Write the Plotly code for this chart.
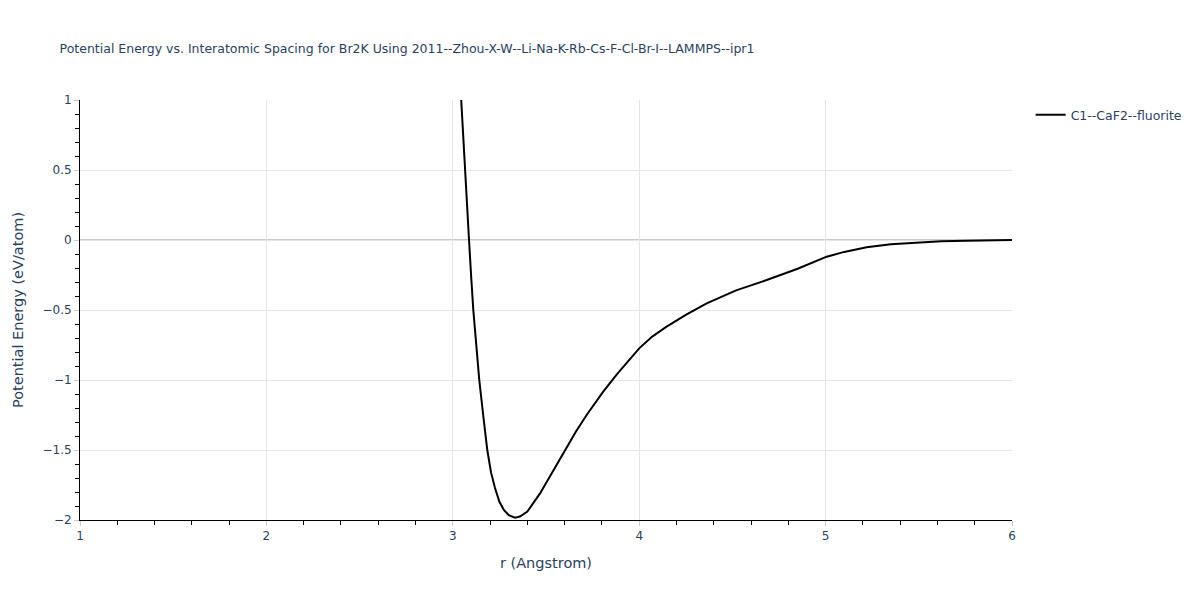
import plotly.graph_objects as go

# Valores (r en Angstrom, energía en eV/atom)
r_values = [3.020, 3.044, 3.055, 3.065, 3.076, 3.087, 3.098, 3.110, 3.126, 3.142, 3.163,
            3.185, 3.205, 3.226, 3.250, 3.275, 3.300, 3.320, 3.334, 3.360, 3.400,
            3.468, 3.530, 3.602, 3.660, 3.718, 3.807, 3.880, 3.951, 4.000, 4.070,
            4.147, 4.250, 4.362, 4.520, 4.684, 4.850, 5.006, 5.100, 5.220, 5.350,
            5.488, 5.620, 5.757, 5.880, 6.000]
energy_values = [1.60, 1.00, 0.75, 0.50, 0.25, 0.00, -0.25, -0.50, -0.75, -1.00, -1.25,
                 -1.50, -1.66, -1.77, -1.87, -1.93, -1.965, -1.978, -1.983, -1.975, -1.94,
                 -1.81, -1.67, -1.50, -1.37, -1.25, -1.083, -0.96, -0.845, -0.774, -0.69,
                 -0.619, -0.535, -0.452, -0.36, -0.286, -0.205, -0.119, -0.085, -0.052, -0.03,
                 -0.017, -0.009, -0.005, -0.002, 0.0]

series_name = "C1--CaF2--fluorite"
title_text = "Potential Energy vs. Interatomic Spacing for Br2K Using 2011--Zhou-X-W--Li-Na-K-Rb-Cs-F-Cl-Br-I--LAMMPS--ipr1"

GRIDLINE = "#e5e5e5"
INK = "#2a3f5f"
FONT = "DejaVu Sans, Verdana, sans-serif"

fig = go.Figure(
    go.Scatter(
        x=r_values,
        y=energy_values,
        mode="lines",
        name=series_name,
        line=dict(color="black", width=2),
        showlegend=True,
    )
)

axis_common = dict(
    showline=True,
    linecolor="black",
    linewidth=1,
    gridcolor=GRIDLINE,
    ticks="outside",
    tickcolor="#cccccc",
    ticklen=5,
    zeroline=False,
    automargin=False,
    tickfont=dict(size=12, color=INK),
)

fig.update_layout(
    width=1200,
    height=600,
    title=dict(text=title_text, x=0.043, y=0.94, xanchor="left", font=dict(size=12.5, color=INK)),
    paper_bgcolor="white",
    plot_bgcolor="white",
    font=dict(family=FONT, color=INK),
    margin=dict(l=72, r=196, t=92, b=88),
    legend=dict(x=1.02, y=1.0, xanchor="left", yanchor="top", font=dict(size=12.5, color=INK)),
    xaxis=dict(
        title=dict(text="r (Angstrom)", font=dict(size=14.5, color=INK)),
        range=[1, 6],
        dtick=1,
        minor=dict(dtick=0.2, ticks="outside", ticklen=4, tickcolor="black", showgrid=False),
        **axis_common,
    ),
    yaxis=dict(
        title=dict(text="Potential Energy (eV/atom)", font=dict(size=14.5, color=INK)),
        range=[-2, 1],
        dtick=0.5,
        minor=dict(dtick=0.1, ticks="outside", ticklen=4, tickcolor="black", showgrid=False),
        **axis_common,
    ),
)

# línea del cero en gris más marcado
fig.add_hline(y=0, line=dict(color="#c8c8c8", width=2), layer="below")

fig.write_html("out.html")
